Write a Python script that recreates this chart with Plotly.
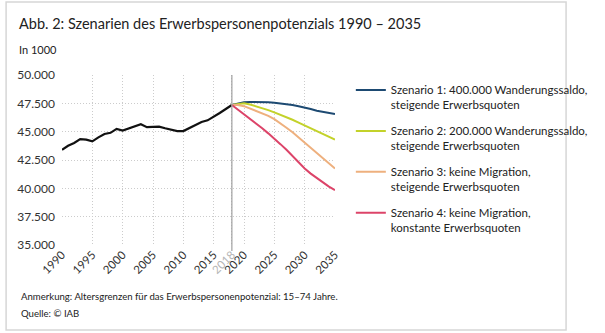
import plotly.graph_objects as go

# ---- data ----
hist_years = list(range(1990, 2019))
hist_values = [43400, 43750, 44000, 44350, 44300, 44150, 44500, 44800, 44900, 45250,
               45100, 45300, 45500, 45650, 45400, 45400, 45450, 45300, 45200, 45050,
               45050, 45300, 45600, 45850, 46000, 46300, 46650, 47000, 47350]

scen_years = list(range(2018, 2036))
scen1 = [47350, 47500, 47600, 47620, 47620, 47620, 47600, 47550, 47500, 47430,
         47350, 47250, 47150, 47000, 46850, 46750, 46650, 46550]
scen2 = [47350, 47450, 47500, 47400, 47250, 47100, 46900, 46700, 46500, 46300,
         46050, 45800, 45550, 45250, 45050, 44800, 44550, 44300]
scen3 = [47350, 47350, 47250, 47050, 46850, 46650, 46400, 46100, 45750, 45350,
         44950, 44500, 44050, 43600, 43150, 42650, 42200, 41750]
scen4 = [47350, 46950, 46550, 46150, 45750, 45300, 44850, 44400, 43900, 43400,
         42850, 42300, 41750, 41300, 40900, 40500, 40150, 39850]

scen_names = [
    "Szenario 1: 400.000 Wanderungssaldo,<br>steigende Erwerbsquoten",
    "Szenario 2: 200.000 Wanderungssaldo,<br>steigende Erwerbsquoten",
    "Szenario 3: keine Migration,<br>steigende Erwerbsquoten",
    "Szenario 4: keine Migration,<br>konstante Erwerbsquoten",
]
scen_colors = ["#1d4a72", "#c3d22a", "#eeb07e", "#dc4469"]

x_tickvals = [1990, 1995, 2000, 2005, 2010, 2015, 2018, 2020, 2025, 2030, 2035]
x_ticktext = ["1990", "1995", "2000", "2005", "2010", "2015",
              "<span style='color:#b5b5b5'>2018</span>", "2020", "2025", "2030", "2035"]
y_tickvals = [35000, 37500, 40000, 42500, 45000, 47500, 50000]

title_text = "Abb. 2: Szenarien des Erwerbspersonenpotenzials 1990 – 2035"
subtitle_text = "In 1000"
note_text = "Anmerkung: Altersgrenzen für das Erwerbspersonenpotenzial: 15–74 Jahre."
source_text = "Quelle: © IAB"

FONT = "Lato"
W, H = 605, 333
L, R, T, B = 62, 250, 75, 88
PW, PH = W - L - R, H - T - B


def px(xp):
    return (xp - L) / PW


def py(yp):
    return (H - B - yp) / PH


fig = go.Figure()
fig.add_trace(go.Scatter(x=hist_years, y=hist_values, mode="lines",
                         line=dict(color="#111111", width=2.2), showlegend=False,
                         hoverinfo="skip"))
for i, (vals, name, col) in enumerate(zip([scen1, scen2, scen3, scen4], scen_names, scen_colors)):
    fig.add_trace(go.Scatter(x=scen_years, y=vals, mode="lines", name=name,
                             legendgroup=f"g{i}", line=dict(color=col, width=2)))

# 2018 marker line
fig.add_shape(type="line", xref="x", yref="paper", x0=2018, x1=2018, y0=-0.035, y1=1,
              line=dict(color="#a0a0a0", width=1.2), layer="above")
# outer frame
fig.add_shape(type="rect", xref="paper", yref="paper",
              x0=px(2), x1=px(603), y0=py(330), y1=py(2),
              line=dict(color="#d6d6d6", width=1.5), layer="below")

fig.add_annotation(text=title_text, xref="paper", yref="paper", x=px(14), y=py(24),
                   xanchor="left", yanchor="middle", showarrow=False,
                   font=dict(family=FONT, size=14.5, color="#222222"))
fig.add_annotation(text=subtitle_text, xref="paper", yref="paper", x=px(14), y=py(49.5),
                   xanchor="left", yanchor="middle", showarrow=False,
                   font=dict(family=FONT, size=11, color="#222222"))
fig.add_annotation(text=note_text, xref="paper", yref="paper", x=px(16), y=py(296),
                   xanchor="left", yanchor="middle", showarrow=False,
                   font=dict(family=FONT, size=9.6, color="#222222"))
fig.add_annotation(text=source_text, xref="paper", yref="paper", x=px(16), y=py(313),
                   xanchor="left", yanchor="middle", showarrow=False,
                   font=dict(family=FONT, size=9.6, color="#222222"))

fig.update_layout(
    width=W, height=H,
    margin=dict(l=L, r=R, t=T, b=B),
    paper_bgcolor="white", plot_bgcolor="white",
    font=dict(family=FONT, color="#333333"),
    separators=",.",
    showlegend=True,
    legend=dict(x=px(372), y=py(76), xanchor="left", yanchor="top",
                font=dict(family=FONT, size=11.5, color="#222222"),
                tracegroupgap=8, valign="top", itemwidth=30, maxheight=320,
                bgcolor="rgba(0,0,0,0)", borderwidth=0),
    xaxis=dict(range=[1990, 2035], tickvals=x_tickvals, ticktext=x_ticktext,
               tickangle=-45, tickfont=dict(size=11.5, color="#333333"),
               showgrid=True, gridcolor="#cccccc", griddash="1px,2px", gridwidth=1,
               zeroline=False, showline=False, ticks=""),
    yaxis=dict(range=[35000, 50000], tickvals=y_tickvals, tickformat=",d",
               tickfont=dict(size=12, color="#333333"),
               showgrid=True, gridcolor="#cccccc", griddash="1px,2px", gridwidth=1,
               zeroline=False, showline=False, ticks="", ticklabelstandoff=6),
)

fig.write_html("out.html")
